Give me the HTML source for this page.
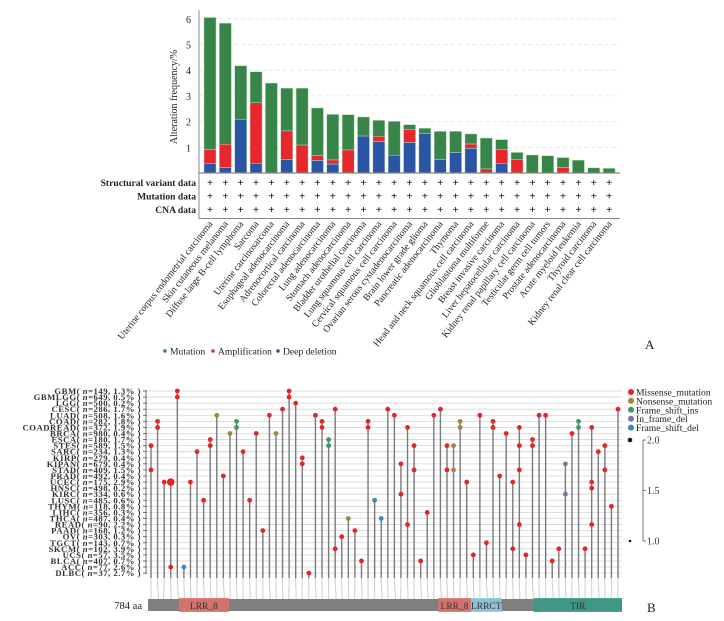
<!DOCTYPE html>
<html><head><meta charset="utf-8"><style>
html,body{margin:0;padding:0;background:#fff;}
svg{display:block;font-family:"Liberation Serif","Noto Serif CJK SC",serif;}
</style></head><body>
<svg id="fig" width="724" height="621" viewBox="0 0 724 621">
<g id="pa"></g>
<g id="pb"></g>
</svg>
<script>
// ===== Panel A data =====
const cancers = ["Uterine corpus endometrial carcinoma","Skin cutaneous melanoma","Diffuse large B-cell lymphoma","Sarcoma","Uterine carcinosarcoma","Esophageal adenocarcinoma","Adrenocortical carcinoma","Colorectal adenocarcinoma","Lung adenocarcinoma","Stomach adenocarcinoma","Bladder urothelial carcinoma","Lung squamous cell carcinoma","Cervical squamous cell carcinoma","Ovarian serous cystadenocarcinoma","Brain lower grade glioma","Pancreatic adenocarcinoma","Thymoma","Head and neck squamous cell carcinoma","Glioblastoma multiforme","Breast invasive carcinoma","Liver hepatocellular carcinoma","Kidney renal papillary cell carcinoma","Testicular germ cell tumors","Prostate adenocarcinoma","Acute myeloid leukemia","Thyroid carcinoma","Kidney renal clear cell carcinoma"];
const deepDeletion = [0.36,0.21,2.09,0.38,0,0.52,0,0.49,0.35,0,1.44,1.22,0.69,1.19,1.53,0.53,0.80,0.96,0,0.36,0,0,0,0,0,0,0];
const amplification = [0.56,0.91,0,2.36,0,1.12,1.09,0.19,0.16,0.90,0,0.21,0,0.51,0,0,0,0.17,0.16,0.55,0.52,0,0,0.21,0,0,0];
const mutation = [5.13,4.71,2.08,1.20,3.50,1.66,2.21,1.85,1.77,1.37,0.74,0.62,1.32,0.18,0.21,1.09,0.82,0.39,1.20,0.39,0.28,0.70,0.67,0.39,0.50,0.20,0.18];
const yTicksA = [1,2,3,4,5,6];
const dataRows = ["Structural variant data","Mutation data","CNA data"];

// ===== Panel B data =====
const studies = ["GBM","GBMLGG","LGG","CESC","LUAD","COAD","COADREAD","BRCA","ESCA","STES","SARC","KIRP","KIPAN","STAD","PRAD","UCEC","HNSC","KIRC","LUSC","THYM","LIHC","THCA","READ","PAAD","OV","TGCT","SKCM","UCS","BLCA","ACC","DLBC"];
const studyN = [149,649,500,286,508,282,372,980,180,589,234,279,679,409,492,175,498,334,485,118,356,487,90,168,303,143,102,57,407,77,37];
const studyPct = ["1.3","0.5","0.2","1.7","1.6","1.8","1.9","0.4","1.7","1.5","1.3","0.4","0.4","1.5","0.4","2.9","0.2","0.6","0.6","0.8","0.3","0.4","2.2","1.2","0.3","0.7","3.9","3.5","0.7","2.6","2.7"];
const mutAA = [5,17,26,38,50,60,71,81,93,104,114,126,136,147,157,169,179,190,202,212,223,233,245,255,266,278,288,299,311,321,332,342,354,364,375,387,397,409,418,430,440,452,463,473,485,495,506,516,528,539,549,561,571,582,592,604,615,625,637,647,658,670,680,691,701,713,723,734,746,756,767,777];
const mutRows = [[9,13],[5,6],[15],[15,29],[0,1],[29],[15],[10],[18],[8,9],[4],[14],[7],[5,6],[10],[18],[7],[23],[4],[7],[3],[0,1],[2],[11,12],[30],[4],[5,6],[8,9],[3,26],[24],[21],[23],[28],[5,6],[18],[21],[3],[4],[12,17],[6,22],[9,13],[28],[20],[4],[3],[9,13],[9,13],[5,6],[15],[27],[4],[25],[5,6],[14],[7],[15,26],[6,9,13,22],[27],[8,9],[4],[4],[28],[26],[12,17],[7],[5,6],[26],[6,15,16,22],[10],[9,13],[19],[3]];
const mutType = ["M","M","M","M","M","D","M","M","M","M","N","M","N","I","M","M","M","M","M","N","M","M","M","M","M","M","M","I","M","M","N","M","M","M","D","D","M","M","M","M","M","M","M","M","M","M","N","N","M","M","M","M","M","M","M","M","M","M","M","M","M","M","M","F","M","I","M","M","M","M","M","M"];
const bigDot = [3];
const domains = [["LRR_8",51,134],["LRR_8",480,534],["LRRCT",534,585],["TIR",638,784]];
const proteinLen = 784;
const legendTypes = [["Missense_mutation","M"],["Nonsense_mutation","N"],["Frame_shift_ins","I"],["In_frame_del","F"],["Frame_shift_del","D"]];
const sizeTicks = ["2.0","1.5","1.0"];

const NS="http://www.w3.org/2000/svg";
function mk(tag, attrs, parent, text){
  const e=document.createElementNS(NS,tag);
  for(const k in attrs) e.setAttribute(k,attrs[k]);
  if(text!==undefined) e.textContent=text;
  parent.appendChild(e); return e;
}

// ===== Panel A =====
const pa=document.getElementById('pa');
const ax0=199, ax1=620, base=173, unit=25.7, step=15.35, bx0=210, bw=12;
const yA=v=>base-v*unit;
const xA=i=>bx0+i*step;
yTicksA.forEach(t=>{
  const l=mk('line',{x1:ax0,x2:ax1,y1:yA(t),y2:yA(t),stroke:'#e2e2e2','stroke-dasharray':'4,3','stroke-width':0.8},pa);
  
  
  const tx=mk('text',{x:ax0-8,y:yA(t)+4,'font-size':10,'text-anchor':'end',fill:'#222'},pa,String(t));
  
  
});
const yt=mk('text',{x:0,y:0,'font-size':10,'text-anchor':'middle',fill:'#222',transform:'translate(177,97) rotate(-90)'},pa,'Alteration frequency/%');


cancers.forEach((c,i)=>{
  const cx=xA(i);
  const segs=[[deepDeletion[i],'#2a55a5'],[amplification[i],'#e8272d'],[mutation[i],'#38854a']];
  let acc=0;
  segs.forEach(s=>{
    if(s[0]<=0) return;
    const r=mk('rect',{x:cx-bw/2,y:yA(acc+s[0]),width:bw,height:s[0]*unit,fill:s[1],stroke:'#b8d8b8','stroke-width':0.5},pa);
    
    
    acc+=s[0];
  });
  dataRows.forEach((d,j)=>{
    const p=mk('text',{x:cx,y:186+j*13.5,'font-size':11,'text-anchor':'middle','font-weight':'bold',fill:'#111'},pa,'+');
    
    
  });
  const lb=mk('text',{x:0,y:0,'font-size':9.6,'text-anchor':'end',fill:'#222',transform:`translate(${cx+3},224) rotate(-52)`},pa,c);
  
  
});
mk('line',{x1:ax0,x2:ax0,y1:10,y2:219,stroke:'#888','stroke-width':1},pa);
mk('line',{x1:ax0,x2:ax1,y1:base,y2:base,stroke:'#888','stroke-width':1.2},pa);
mk('line',{x1:ax0,x2:ax1,y1:218.5,y2:218.5,stroke:'#888','stroke-width':1},pa);
dataRows.forEach((d,j)=>{
  const t=mk('text',{x:196,y:186+j*13.5,'font-size':9.6,'text-anchor':'end','font-weight':'bold',fill:'#222'},pa,d);
  
  
});
const legA=[['Mutation','#38854a',165],['Amplification','#e8272d',213],['Deep deletion','#2a55a5',278]];
legA.forEach(l=>{
  const c=mk('circle',{cx:l[2],cy:351,r:1.8,fill:l[1]},pa);
  
  
  const t=mk('text',{x:l[2]+5,y:354.5,'font-size':9.6,fill:'#222'},pa,l[0]);
  
  
});
const A=mk('text',{x:645,y:349,'font-size':13,fill:'#222'},pa,'A');



// ===== Panel B =====
const pb=document.getElementById('pb');
const colors={M:'#e5232b',N:'#9b8a3c',I:'#3b9862',F:'#7b72ae',D:'#3a88c6'};
const row0=391, rowH=6.07, gx0=148, gx1=622, stemBot=578;
const yB=r=>row0+r*rowH;
const xAA=a=>gx0+a*(gx1-gx0)/proteinLen;
const stemX=i=>151+i*(618-151)/(mutAA.length-1);
studies.forEach((s,r)=>{
  const g=mk('line',{x1:gx0,x2:gx1,y1:yB(r),y2:yB(r),stroke:'#d4d4d4','stroke-width':0.8},pb);
  
  
  mk('line',{x1:143,x2:147,y1:yB(r),y2:yB(r),stroke:'#555','stroke-width':0.8},pb);
  const t=mk('text',{x:141,y:yB(r)+3,'font-size':8.7,'letter-spacing':0.5,'text-anchor':'end','font-weight':'bold',fill:'#333'},pb);
  
  
  t.appendChild(document.createTextNode(s+'( '));
  const it=mk('tspan',{'font-style':'italic'},t,'n');
  t.appendChild(document.createTextNode('='+studyN[r]+', '+studyPct[r]+'% )'));
});
mk('line',{x1:146,x2:146,y1:yB(0)-1,y2:yB(studies.length-1)+1,stroke:'#555','stroke-width':0.8},pb);
mutAA.forEach((a,i)=>{
  const sx=stemX(i), px=xAA(a);
  const c=mk('polyline',{points:`${sx},${stemBot} ${sx},584 ${px},593 ${px},599`,fill:'none',stroke:'#c8c8c8','stroke-width':0.9},pb);
  
  
  const rows=mutRows[i];
  const top=Math.min(...rows);
  const st=mk('line',{x1:sx,x2:sx,y1:yB(top),y2:stemBot,stroke:'#7a7a7a','stroke-width':1.4},pb);
  
  
});
mutAA.forEach((a,i)=>{
  const sx=stemX(i);
  mutRows[i].forEach(r=>{
    const big=bigDot.includes(i)&&r===15;
    const d=mk('circle',{cx:sx,cy:yB(r),r:big?3.8:2.4,fill:colors[mutType[i]]},pb);
    
    
  });
});
const prot=mk('rect',{x:gx0,y:599,width:gx1-gx0,height:12,fill:'#7f7f7f'},pb);


const dcol={LRR_8:'#d9736c',LRRCT:'#8ec9de',TIR:'#3b9a87'};
domains.forEach(d=>{
  const x1=xAA(d[1]), x2=xAA(d[2]);
  const r=mk('rect',{x:x1,y:598,width:x2-x1,height:14,fill:dcol[d[0]],opacity:0.9},pb);
  
  
  const t=mk('text',{x:(x1+x2)/2,y:609,'font-size':9.5,'text-anchor':'middle',fill:'#333'},pb,d[0]);
  
  
});
const aa=mk('text',{x:142,y:609,'font-size':10.5,'text-anchor':'end',fill:'#222'},pb,proteinLen+' aa');


legendTypes.forEach((l,j)=>{
  const y=392+j*8.9;
  const c=mk('circle',{cx:631,cy:y,r:3,fill:colors[l[1]]},pb);
  
  
  const t=mk('text',{x:636,y:y+3.5,'font-size':9.6,fill:'#222'},pb,l[0]);
  
  
});
mk('circle',{cx:630,cy:440,r:2.3,fill:'#111'},pb);
mk('circle',{cx:630,cy:541,r:1.3,fill:'#111'},pb);
mk('line',{x1:643,x2:643,y1:440,y2:541,stroke:'#777','stroke-width':1},pb);
sizeTicks.forEach((s,j)=>{
  const y=440+j*50.5;
  mk('line',{x1:643,x2:646,y1:y,y2:y,stroke:'#777','stroke-width':1},pb);
  const t=mk('text',{x:647,y:y+3.5,'font-size':10,fill:'#333'},pb,s);
  
  
});
const B=mk('text',{x:647,y:612,'font-size':13,fill:'#222'},pb,'B');


</script>
</body></html>
